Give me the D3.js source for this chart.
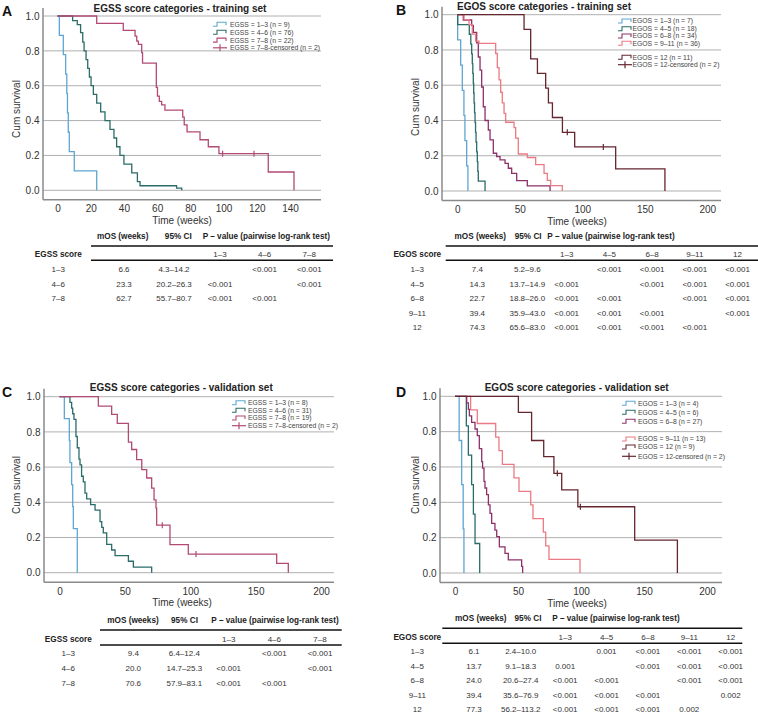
<!DOCTYPE html>
<html>
<head>
<meta charset="utf-8">
<script src="https://cdn.jsdelivr.net/npm/d3@7"></script>
<style>
  body { margin: 0; background: #fff; }
  svg { display: block; font-family: "Liberation Sans", Arial, sans-serif; }
</style>
</head>
<body>
<svg id="fig" width="758" height="714"></svg>
<script>
/* ---------- shared ticks ---------- */
const survTicks = [0, 0.2, 0.4, 0.6, 0.8, 1.0];
const weekTicksA = [0, 20, 40, 60, 80, 100, 120, 140];
const weekTicks = [0, 50, 100, 150, 200];

/* ---------- A: EGSS score categories - training set ---------- */
const trainEgss13T = [1.1, 3.5, 4.9, 5.6, 6.0, 6.5, 7.1, 10.1, 23.6];
const trainEgss13S = [0.889, 0.778, 0.667, 0.556, 0.444, 0.333, 0.222, 0.111, 0];
const trainEgss46T = [9.1, 11.9, 13.9, 15.2, 16.0, 17.2, 18.2, 19.2, 20.2, 21.6, 23.6, 26.0, 28.6, 31.6, 34.0, 35.6, 37.6, 40.0, 44.7, 48.1, 49.7, 71.7, 74.8];
const trainEgss46S = [0.974, 0.95, 0.905, 0.85, 0.8, 0.75, 0.7, 0.65, 0.6, 0.55, 0.5, 0.45, 0.4, 0.35, 0.3, 0.25, 0.2, 0.15, 0.1, 0.05, 0.026, 0.013, 0];
const trainEgss78T = [23.6, 39.6, 46.7, 47.7, 48.7, 50.7, 51.2, 59.5, 60.2, 61.3, 62.7, 64.7, 75.4, 76.3, 78.0, 85.8, 90.8, 97.2, 126.9, 142.4];
const trainEgss78S = [0.958, 0.917, 0.885, 0.856, 0.837, 0.79, 0.73, 0.59, 0.54, 0.51, 0.49, 0.46, 0.42, 0.375, 0.335, 0.29, 0.25, 0.21, 0.105, 0];
const trainEgss78Cens = [99.4, 118.3];

/* ---------- B: EGOS score categories - training set ---------- */
const trainEgos13T = [0.3, 2.7, 4.0, 5.3, 6.1, 7.5, 8.5];
const trainEgos13S = [0.857, 0.714, 0.571, 0.429, 0.286, 0.143, 0];
const trainEgos45T = [0.3, 9.6, 10.8, 11.5, 12.0, 12.4, 12.8, 13.1, 13.4, 13.8, 14.2, 14.6, 15.0, 15.5, 16.0, 16.4, 16.8, 22.2];
const trainEgos45S = [0.944, 0.889, 0.833, 0.778, 0.722, 0.667, 0.611, 0.556, 0.5, 0.444, 0.389, 0.333, 0.278, 0.222, 0.167, 0.111, 0.056, 0];
const trainEgos68T = [4.8, 11.5, 12.8, 15.5, 16.8, 18.2, 19.5, 20.8, 22.2, 24.8, 26.2, 28.8, 31.5, 34.2, 38.2, 40.8, 43.5, 47.5, 56.0, 74.2];
const trainEgos68S = [0.97, 0.94, 0.90, 0.84, 0.76, 0.686, 0.59, 0.478, 0.40, 0.346, 0.29, 0.214, 0.195, 0.176, 0.157, 0.129, 0.10, 0.059, 0.029, 0];
const trainEgos911T = [5.4, 9.4, 12.0, 14.7, 17.4, 30.7, 32.0, 33.4, 34.7, 36.0, 37.4, 38.7, 45.4, 46.7, 48.8, 56.0, 62.7, 69.4, 72.0, 74.7, 84.0];
const trainEgos911S = [0.972, 0.944, 0.89, 0.85, 0.837, 0.78, 0.70, 0.63, 0.56, 0.5, 0.44, 0.39, 0.36, 0.30, 0.21, 0.19, 0.15, 0.10, 0.06, 0.03, 0];
const trainEgos12T = [53.4, 58.7, 64.1, 70.7, 72.9, 76.1, 84.1, 93.9, 126.7, 166.1];
const trainEgos12S = [0.917, 0.75, 0.667, 0.583, 0.5, 0.417, 0.333, 0.25, 0.125, 0];
const trainEgos12Cens = [88.0, 116.8];

/* ---------- C: EGSS score categories - validation set ---------- */
const validEgss13T = [3.7, 7.5, 8.0, 9.3, 10.1, 10.6, 13.6];
const validEgss13S = [0.875, 0.75, 0.625, 0.5, 0.375, 0.25, 0];
const validEgss46T = [8.0, 9.3, 10.1, 11.1, 12.6, 13.6, 14.9, 15.7, 16.9, 18.2, 19.5, 20.8, 23.8, 27.2, 31.0, 32.3, 33.5, 36.1, 39.9, 42.5, 52.7, 56.5, 70.5];
const validEgss46S = [0.968, 0.935, 0.903, 0.871, 0.774, 0.71, 0.645, 0.613, 0.548, 0.516, 0.452, 0.419, 0.387, 0.355, 0.29, 0.258, 0.226, 0.161, 0.129, 0.097, 0.065, 0.032, 0];
const validEgss78T = [29.7, 39.9, 44.2, 52.7, 55.2, 59.0, 62.9, 66.7, 70.5, 72.3, 73.8, 74.3, 84.5, 98.5, 166.1, 175.0];
const validEgss78S = [0.947, 0.9, 0.848, 0.742, 0.70, 0.643, 0.586, 0.538, 0.481, 0.414, 0.367, 0.27, 0.16, 0.106, 0.053, 0];
const validEgss78Cens = [78.6, 104.4];

/* ---------- D: EGOS score categories - validation set ---------- */
const validEgos13T = [3.3, 5.3, 6.5, 7.1];
const validEgos13S = [0.75, 0.5, 0.25, 0];
const validEgos45T = [9.0, 10.6, 13.2, 14.6, 15.9, 19.6];
const validEgos45S = [0.833, 0.667, 0.5, 0.333, 0.167, 0];
const validEgos68T = [9.3, 10.6, 11.4, 13.2, 15.9, 17.7, 19.3, 21.2, 21.9, 23.0, 23.8, 25.1, 26.5, 27.8, 29.1, 31.7, 33.1, 35.2, 39.7, 42.3, 52.9, 53.7];
const validEgos68S = [0.963, 0.926, 0.889, 0.852, 0.815, 0.778, 0.704, 0.63, 0.593, 0.519, 0.481, 0.444, 0.385, 0.338, 0.281, 0.243, 0.206, 0.148, 0.111, 0.074, 0.037, 0];
const validEgos911T = [12.4, 17.7, 32.3, 34.9, 37.6, 46.8, 50.8, 60.1, 61.9, 70.1, 72.0, 74.6, 99.2];
const validEgos911S = [0.923, 0.846, 0.769, 0.692, 0.615, 0.538, 0.462, 0.385, 0.308, 0.231, 0.154, 0.077, 0];
const validEgos12T = [50.3, 60.8, 70.4, 78.5, 84.7, 97.5, 142.6, 176.5];
const validEgos12S = [0.909, 0.75, 0.659, 0.564, 0.47, 0.375, 0.186, 0];
const validEgos12Cens = [81.2, 99.5];

/* ---------- tables ---------- */
const egssCats = ["1–3", "4–6", "7–8"];
const egosCats = ["1–3", "4–5", "6–8", "9–11", "12"];

const trainEgssMos = ["6.6", "23.3", "62.7"];
const trainEgssCI = ["4.3–14.2", "20.2–26.3", "55.7–80.7"];
const trainEgssP = [["", "<0.001", "<0.001"], ["<0.001", "", "<0.001"], ["<0.001", "<0.001", ""]];

const trainEgosMos = ["7.4", "14.3", "22.7", "39.4", "74.3"];
const trainEgosCI = ["5.2–9.6", "13.7–14.9", "18.8–26.0", "35.9–43.0", "65.6–83.0"];
const trainEgosP = [
  ["", "<0.001", "<0.001", "<0.001", "<0.001"],
  ["<0.001", "", "<0.001", "<0.001", "<0.001"],
  ["<0.001", "<0.001", "", "<0.001", "<0.001"],
  ["<0.001", "<0.001", "<0.001", "", "<0.001"],
  ["<0.001", "<0.001", "<0.001", "<0.001", ""]
];

const validEgssMos = ["9.4", "20.0", "70.6"];
const validEgssCI = ["6.4–12.4", "14.7–25.3", "57.9–83.1"];
const validEgssP = [["", "<0.001", "<0.001"], ["<0.001", "", "<0.001"], ["<0.001", "<0.001", ""]];

const validEgosMos = ["6.1", "13.7", "24.0", "39.4", "77.3"];
const validEgosCI = ["2.4–10.0", "9.1–18.3", "20.6–27.4", "35.6–76.9", "56.2–113.2"];
const validEgosP = [
  ["", "0.001", "<0.001", "<0.001", "<0.001"],
  ["0.001", "", "<0.001", "<0.001", "<0.001"],
  ["<0.001", "<0.001", "", "<0.001", "<0.001"],
  ["<0.001", "<0.001", "<0.001", "", "0.002"],
  ["<0.001", "<0.001", "<0.001", "0.002", ""]
];

/* ---------- colours ---------- */
const C_BLUE = "#5ea6d2";
const C_TEAL = "#2a6c69";
const C_ROSE = "#b24a75";
const C_PLUM = "#8c316a";
const C_SALMON = "#ec7a82";
const C_DARK = "#64262f";

const svg = d3.select("#fig");

function levelAt(T, S, t) {
  let v = 1;
  T.forEach((tt, i) => { if (tt <= t) v = S[i]; });
  return v;
}

function drawPanel(p) {
  const g = svg.append("g");
  const x = d3.scaleLinear().domain(p.xDomain).range([p.left, p.right]);
  const y = d3.scaleLinear().domain([0, 1]).range([p.yBottom, p.yTop]);
  const axisY = y(0) + 9.5;

  // gridlines
  g.selectAll(".grid").data(survTicks).enter().append("line")
    .attr("x1", p.left).attr("x2", p.right)
    .attr("y1", d => y(d)).attr("y2", d => y(d))
    .attr("stroke", "#b0b0b0").attr("stroke-width", 1);

  // axis frame
  g.append("line").attr("x1", p.left).attr("x2", p.left)
    .attr("y1", y(1) - 8).attr("y2", axisY)
    .attr("stroke", "#8a8a8a").attr("stroke-width", 1.5);
  g.append("line").attr("x1", p.left).attr("x2", p.right)
    .attr("y1", axisY).attr("y2", axisY)
    .attr("stroke", "#8a8a8a").attr("stroke-width", 1.5);

  // tick labels
  const ya = g.append("g").attr("transform", `translate(${p.left},0)`)
    .call(d3.axisLeft(y).tickValues(survTicks).tickFormat(d3.format(".1f")).tickSize(0).tickPadding(3.5));
  ya.select(".domain").remove();
  ya.selectAll("text").attr("font-size", 10).attr("fill", "#333").attr("font-family", null);

  const xa = g.append("g").attr("transform", `translate(0,${axisY})`)
    .call(d3.axisBottom(x).tickValues(p.ticks).tickSize(0).tickPadding(5.6));
  xa.select(".domain").remove();
  xa.selectAll("text").attr("font-size", 10).attr("fill", "#333").attr("font-family", null);

  // titles
  g.append("text").attr("x", p.titleX).attr("y", p.titleY).attr("text-anchor", "middle")
    .attr("font-size", 10).attr("font-weight", "bold").attr("fill", "#222").text(p.title);
  g.append("text").attr("x", p.letterX).attr("y", p.letterY)
    .attr("font-size", 14).attr("font-weight", "bold").attr("fill", "#111").text(p.letter);
  g.append("text").attr("transform", `translate(${p.ylabX},${p.ylabY}) rotate(-90)`)
    .attr("text-anchor", "middle").attr("font-size", 10).attr("fill", "#333").text("Cum survival");
  g.append("text").attr("x", p.xlabX).attr("y", axisY + 24)
    .attr("text-anchor", "middle").attr("font-size", 10).attr("fill", "#333").text("Time (weeks)");

  // curves
  const line = d3.line().x(d => x(d[0])).y(d => y(d[1])).curve(d3.curveStepAfter);
  p.series.forEach(s => {
    const pts = [[0, 1]].concat(s.T.map((t, i) => [t, s.S[i]]));
    g.append("path").attr("d", line(pts)).attr("fill", "none")
      .attr("stroke", s.color).attr("stroke-width", 1.3);
    (s.cens || []).forEach(c => {
      const yy = y(levelAt(s.T, s.S, c));
      g.append("line").attr("x1", x(c)).attr("x2", x(c))
        .attr("y1", yy - 3).attr("y2", yy + 3)
        .attr("stroke", s.color).attr("stroke-width", 1.2);
    });
  });

  // legend
  const lg = g.append("g");
  p.legend.forEach(e => {
    const x0 = p.legX, yy = e.y;
    if (e.cens) {
      lg.append("line").attr("x1", x0).attr("x2", x0 + 14).attr("y1", yy).attr("y2", yy)
        .attr("stroke", e.color).attr("stroke-width", 1.2);
      lg.append("line").attr("x1", x0 + 7).attr("x2", x0 + 7).attr("y1", yy - 3.5).attr("y2", yy + 3.5)
        .attr("stroke", e.color).attr("stroke-width", 1.2);
    } else {
      lg.append("path").attr("d", `M${x0},${yy + 2}H${x0 + 4}V${yy - 2}H${x0 + 13}V${yy + 1}`)
        .attr("fill", "none").attr("stroke", e.color).attr("stroke-width", 1.1);
    }
    lg.append("text").attr("x", x0 + p.legGap).attr("y", yy + 2.4)
      .attr("font-size", 6.8).attr("fill", "#444").text(e.label);
  });
}

function drawTable(t) {
  const g = svg.append("g").attr("fill", "#222");
  const rowY = d3.scalePoint().domain(t.cats).range(t.rowRange);
  const pX = d3.scalePoint().domain(t.cats).range(t.pRange);

  g.append("text").attr("x", t.mosHeadX).attr("y", t.headY).attr("text-anchor", "middle")
    .attr("font-size", 8.2).attr("font-weight", "bold").text("mOS (weeks)");
  g.append("text").attr("x", t.ciHeadX).attr("y", t.headY).attr("text-anchor", "middle")
    .attr("font-size", 8.2).attr("font-weight", "bold").text("95% CI");
  g.append("text").attr("x", t.pHeadX).attr("y", t.headY).attr("text-anchor", "middle")
    .attr("font-size", 8.2).attr("font-weight", "bold").text("P – value (pairwise log-rank test)");

  [t.line1Y, t.line2Y].forEach(ly => {
    g.append("line").attr("x1", t.lineX[0]).attr("x2", t.lineX[1])
      .attr("y1", ly).attr("y2", ly).attr("stroke", "#111").attr("stroke-width", 1.6);
  });

  g.append("text").attr("x", t.catX).attr("y", t.catY).attr("text-anchor", "middle")
    .attr("font-size", 8.2).attr("font-weight", "bold").text(t.scoreName);
  g.selectAll(".colhead").data(t.cats).enter().append("text")
    .attr("x", d => pX(d)).attr("y", t.catY).attr("text-anchor", "middle")
    .attr("font-size", 8).attr("fill", "#333").text(d => d);

  t.cats.forEach((c, i) => {
    const yy = rowY(c);
    g.append("text").attr("x", t.catX).attr("y", yy).attr("text-anchor", "middle")
      .attr("font-size", 8).attr("fill", "#333").text(c);
    g.append("text").attr("x", t.mosX).attr("y", yy).attr("text-anchor", "middle")
      .attr("font-size", 8).attr("fill", "#333").text(t.mos[i]);
    g.append("text").attr("x", t.ciX).attr("y", yy).attr("text-anchor", "middle")
      .attr("font-size", 8).attr("fill", "#333").text(t.ci[i]);
    t.p[i].forEach((v, j) => {
      if (!v) return;
      g.append("text").attr("x", pX(t.cats[j])).attr("y", yy).attr("text-anchor", "middle")
        .attr("font-size", 8).attr("fill", "#333").text(v);
    });
  });
}

/* ---------- panels ---------- */
drawPanel({
  letter: "A", letterX: 2, letterY: 16,
  title: "EGSS score categories - training set", titleX: 180, titleY: 11.5,
  left: 43, right: 321, xDomain: [-8.73, 158.65], yTop: 16, yBottom: 190.3,
  ticks: weekTicksA, ylabX: 20.3, ylabY: 109, xlabX: 182,
  legX: 213, legGap: 17,
  series: [
    { T: trainEgss13T, S: trainEgss13S, color: C_BLUE },
    { T: trainEgss46T, S: trainEgss46S, color: C_TEAL },
    { T: trainEgss78T, S: trainEgss78S, color: C_ROSE, cens: trainEgss78Cens }
  ],
  legend: [
    { y: 24.3, color: C_BLUE, label: "EGSS = 1–3 (n = 9)" },
    { y: 32.2, color: C_TEAL, label: "EGSS = 4–6 (n = 76)" },
    { y: 40.1, color: C_ROSE, label: "EGSS = 7–8 (n = 22)" },
    { y: 47.8, color: C_ROSE, label: "EGSS = 7–8-censored (n = 2)", cens: true }
  ]
});

drawPanel({
  letter: "B", letterX: 396, letterY: 15,
  title: "EGOS score categories - training set", titleX: 544, titleY: 10,
  left: 442, right: 721, xDomain: [-12.24, 210.96], yTop: 14.7, yBottom: 191,
  ticks: weekTicks, ylabX: 419, ylabY: 107, xlabX: 577,
  legX: 618, legGap: 14.5,
  series: [
    { T: trainEgos13T, S: trainEgos13S, color: C_BLUE },
    { T: trainEgos45T, S: trainEgos45S, color: C_TEAL },
    { T: trainEgos68T, S: trainEgos68S, color: C_PLUM },
    { T: trainEgos911T, S: trainEgos911S, color: C_SALMON },
    { T: trainEgos12T, S: trainEgos12S, color: C_DARK, cens: trainEgos12Cens }
  ],
  legend: [
    { y: 21, color: C_BLUE, label: "EGOS = 1–3 (n = 7)" },
    { y: 28.7, color: C_TEAL, label: "EGOS = 4–5 (n = 18)" },
    { y: 36, color: C_PLUM, label: "EGOS = 6–8 (n = 34)" },
    { y: 43.3, color: C_SALMON, label: "EGOS = 9–11 (n = 36)" },
    { y: 57.3, color: C_DARK, label: "EGOS = 12 (n = 11)" },
    { y: 64.7, color: C_DARK, label: "EGOS = 12-censored (n = 2)", cens: true }
  ]
});

drawPanel({
  letter: "C", letterX: 2, letterY: 397,
  title: "EGSS score categories - validation set", titleX: 181.3, titleY: 391,
  left: 44, right: 334, xDomain: [-11.85, 209.94], yTop: 396.7, yBottom: 572.7,
  ticks: weekTicks, ylabX: 20, ylabY: 485, xlabX: 182,
  legX: 232, legGap: 16,
  series: [
    { T: validEgss13T, S: validEgss13S, color: C_BLUE },
    { T: validEgss46T, S: validEgss46S, color: C_TEAL },
    { T: validEgss78T, S: validEgss78S, color: C_ROSE, cens: validEgss78Cens }
  ],
  legend: [
    { y: 402.7, color: C_BLUE, label: "EGSS = 1–3 (n = 8)" },
    { y: 410.3, color: C_TEAL, label: "EGSS = 4–6 (n = 31)" },
    { y: 418, color: C_ROSE, label: "EGSS = 7–8 (n = 19)" },
    { y: 425.7, color: C_ROSE, label: "EGSS = 7–8-censored (n = 2)", cens: true }
  ]
});

drawPanel({
  letter: "D", letterX: 396, letterY: 397,
  title: "EGOS score categories - validation set", titleX: 576.7, titleY: 391,
  left: 440, right: 722, xDomain: [-11.9, 211.9], yTop: 396.3, yBottom: 573,
  ticks: weekTicks, ylabX: 419, ylabY: 485, xlabX: 577,
  legX: 622, legGap: 16,
  series: [
    { T: validEgos13T, S: validEgos13S, color: C_BLUE },
    { T: validEgos45T, S: validEgos45S, color: C_TEAL },
    { T: validEgos68T, S: validEgos68S, color: C_PLUM },
    { T: validEgos911T, S: validEgos911S, color: C_SALMON },
    { T: validEgos12T, S: validEgos12S, color: C_DARK, cens: validEgos12Cens }
  ],
  legend: [
    { y: 403.3, color: C_BLUE, label: "EGOS = 1–3 (n = 4)" },
    { y: 412.3, color: C_TEAL, label: "EGOS = 4–5 (n = 6)" },
    { y: 421.3, color: C_PLUM, label: "EGOS = 6–8 (n = 27)" },
    { y: 439, color: C_SALMON, label: "EGOS = 9–11 (n = 13)" },
    { y: 447, color: C_DARK, label: "EGOS = 12 (n = 9)" },
    { y: 456.3, color: C_DARK, label: "EGOS = 12-censored (n = 2)", cens: true }
  ]
});

/* ---------- tables ---------- */
drawTable({
  scoreName: "EGSS score", cats: egssCats, mos: trainEgssMos, ci: trainEgssCI, p: trainEgssP,
  headY: 239, line1Y: 246, catY: 257, line2Y: 260.3, rowRange: [272, 301],
  lineX: [91, 333], catX: 58.3, mosHeadX: 122.7, mosX: 124, ciHeadX: 178.3, ciX: 174,
  pHeadX: 266.3, pRange: [220, 309.3]
});
drawTable({
  scoreName: "EGOS score", cats: egosCats, mos: trainEgosMos, ci: trainEgosCI, p: trainEgosP,
  headY: 239, line1Y: 246, catY: 257, line2Y: 260.3, rowRange: [272, 330],
  lineX: [445.7, 758], catX: 417.3, mosHeadX: 480.3, mosX: 477.3, ciHeadX: 528.2, ciX: 527.3,
  pHeadX: 611, pRange: [566.7, 737.5]
});
drawTable({
  scoreName: "EGSS score", cats: egssCats, mos: validEgssMos, ci: validEgssCI, p: validEgssP,
  headY: 623, line1Y: 630, catY: 641.7, line2Y: 645, rowRange: [656.3, 685.7],
  lineX: [100, 341.7], catX: 68.3, mosHeadX: 133, mosX: 133.3, ciHeadX: 184.5, ciX: 184.3,
  pHeadX: 275, pRange: [228.7, 320]
});
drawTable({
  scoreName: "EGOS score", cats: egosCats, mos: validEgosMos, ci: validEgosCI, p: validEgosP,
  headY: 621.3, line1Y: 628.3, catY: 639.7, line2Y: 643.3, rowRange: [654, 712],
  lineX: [442.3, 742.3], catX: 417.3, mosHeadX: 480.8, mosX: 474, ciHeadX: 528, ciX: 520.7,
  pHeadX: 616, pRange: [565.2, 730.7]
});
</script>
</body>
</html>
